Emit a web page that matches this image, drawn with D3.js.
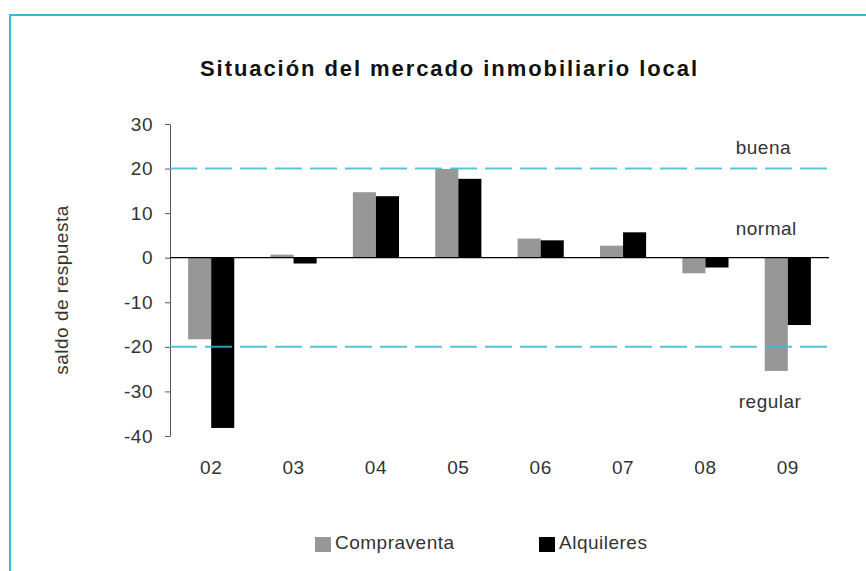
<!DOCTYPE html>
<html>
<head>
<meta charset="utf-8">
<script src="https://cdn.jsdelivr.net/npm/d3@7"></script>
<style>
  body { margin: 0; background: #fff; }
  svg text { font-family: 'Liberation Sans', Arial, sans-serif; fill: #333; }
</style>
</head>
<body>
<div id="chart"></div>
<script>
// Chart size
const w = 866;
const h = 571;

// Data
const years = ['02', '03', '04', '05', '06', '07', '08', '09'];
const series = ['Compraventa', 'Alquileres'];
const compraventa = [-18.3, 0.7, 14.7, 19.9, 4.3, 2.7, -3.5, -25.4];
const alquileres = [-38.2, -1.3, 13.8, 17.7, 3.9, 5.7, -2.2, -15.1];
const yTicks = [30, 20, 10, 0, -10, -20, -30, -40];
const limits = [20, -20];
const zones = [
    { label: 'buena', value: 23.3 },
    { label: 'normal', value: 5.1 },
    { label: 'regular', value: -33.7 }
];

const colors = { Compraventa: '#979797', Alquileres: '#000000' };
const lineColor = '#3fb6d4';

const svg = d3.select('#chart')
    .append('svg')
    .attr('width', w)
    .attr('height', h);

// Frame (left and top edges only show)
svg.append('rect')
   .attr('x', 10)
   .attr('y', 15)
   .attr('width', 900)
   .attr('height', 600)
   .attr('fill', 'none')
   .attr('stroke', lineColor)
   .attr('stroke-width', 2);

// Scales
const x0 = d3.scaleBand()
    .domain(years)
    .range([170, 829])
    .paddingInner(0.44)
    .paddingOuter(0.22);

const x1 = d3.scaleBand()
    .domain(series)
    .range([0, x0.bandwidth()]);

const y = d3.scaleLinear()
    .domain([-40, 30])
    .range([436, 124]);

// Title
svg.append('text')
   .attr('x', 200)
   .attr('y', 76)
   .attr('textLength', 497)
   .attr('lengthAdjust', 'spacing')
   .style('font-size', '22px')
   .style('font-weight', 'bold')
   .style('fill', '#111')
   .text('Situación del mercado inmobiliario local');

// Y axis
const yAxis = svg.append('g')
    .attr('transform', 'translate(170,0)')
    .call(d3.axisLeft(y)
        .tickValues(yTicks)
        .tickFormat((d) => String(d))
        .tickSize(5)
        .tickPadding(12)
        .tickSizeOuter(0));
yAxis.select('.domain').attr('stroke', '#555');
yAxis.selectAll('.tick line').attr('stroke', '#555');
yAxis.selectAll('.tick text')
     .style('font-size', '19px')
     .style('letter-spacing', '0.5px')
     .style('fill', '#333');

// Y axis label
svg.append('text')
   .attr('text-anchor', 'middle')
   .attr('transform', 'translate(68,290)rotate(-90)')
   .style('font-size', '19px')
   .style('letter-spacing', '0.5px')
   .text('saldo de respuesta');

// Bars
const rows = years.map((yr, i) => ({ year: yr, Compraventa: compraventa[i], Alquileres: alquileres[i] }));

svg.append('g')
   .selectAll('g')
   .data(rows)
   .join('g')
   .attr('transform', (d) => 'translate(' + x0(d.year) + ',0)')
   .selectAll('rect')
   .data((d) => series.map((s) => ({ key: s, value: d[s] })))
   .join('rect')
   .attr('x', (d) => x1(d.key))
   .attr('y', (d) => y(Math.max(0, d.value)))
   .attr('width', x1.bandwidth())
   .attr('height', (d) => Math.abs(y(d.value) - y(0)))
   .attr('fill', (d) => colors[d.key]);

// Zero line
svg.append('line')
   .attr('x1', 170)
   .attr('x2', 829)
   .attr('y1', y(0))
   .attr('y2', y(0))
   .attr('stroke', '#000')
   .attr('stroke-width', 1.2);

// Category labels
svg.append('g')
   .selectAll('text')
   .data(years)
   .join('text')
   .attr('x', (d) => x0(d) + x0.bandwidth() / 2)
   .attr('y', 474)
   .attr('text-anchor', 'middle')
   .style('font-size', '19px')
   .style('letter-spacing', '0.5px')
   .text((d) => d);

// Dashed limit lines (drawn over bars)
svg.append('g')
   .selectAll('line')
   .data(limits)
   .join('line')
   .attr('x1', 170)
   .attr('x2', 829)
   .attr('y1', (d) => y(d))
   .attr('y2', (d) => y(d))
   .attr('stroke', lineColor)
   .attr('stroke-width', 2)
   .attr('stroke-opacity', 0.85)
   .attr('stroke-dasharray', '27,8');

// Zone labels
const lastX = x0(years[years.length - 1]);
svg.append('g')
   .selectAll('text')
   .data(zones)
   .join('text')
   .attr('x', (d, i) => lastX - 29 + (i === 2 ? 3 : 0))
   .attr('y', (d) => y(d.value))
   .style('font-size', '19px')
   .style('letter-spacing', '0.5px')
   .text((d) => d.label);

// Legend
const legendX = [315, 539];
const legend = svg.append('g')
    .selectAll('g')
    .data(series)
    .join('g')
    .attr('transform', (d, i) => 'translate(' + legendX[i] + ',537)');

legend.append('rect')
      .attr('width', 16)
      .attr('height', 15)
      .attr('fill', (d) => colors[d]);

legend.append('text')
      .attr('x', 20)
      .attr('y', 12)
      .style('font-size', '19px')
      .style('letter-spacing', '0.5px')
      .text((d) => d);
</script>
</body>
</html>
